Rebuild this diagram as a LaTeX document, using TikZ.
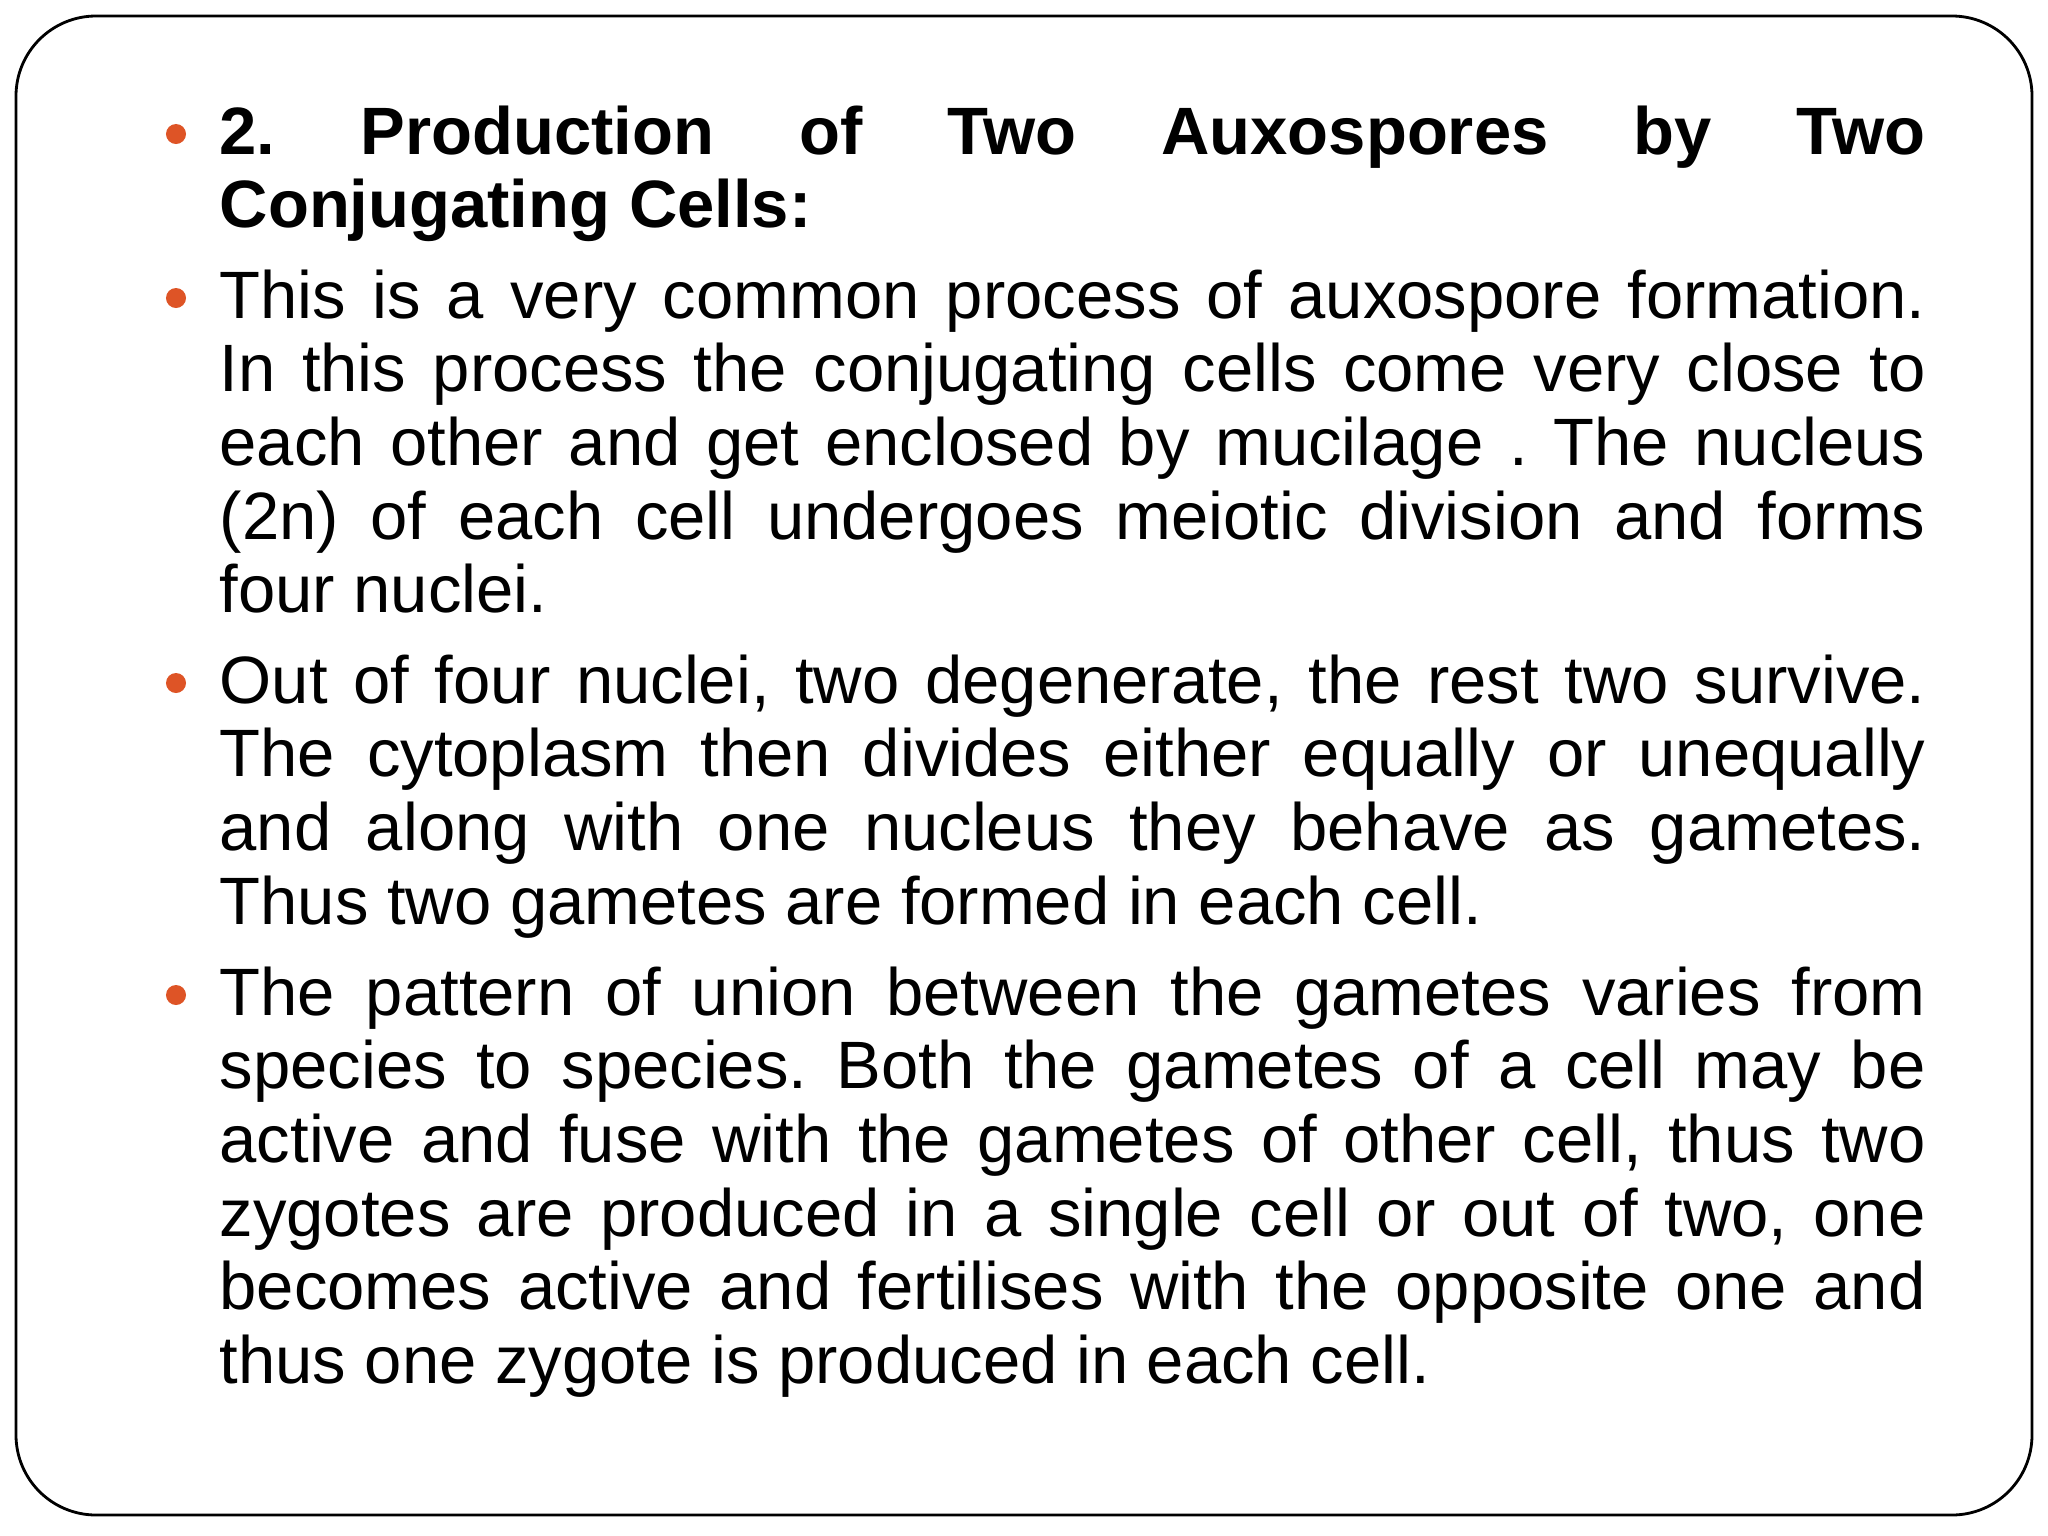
\documentclass[tikz,border=0pt]{standalone}
\usepackage{fontspec}
\setmainfont{Liberation Sans}
\definecolor{bul}{RGB}{222,84,38}
\newcommand\myparsetup{\fontsize{19.05}{20.97}\selectfont\frenchspacing\hyphenpenalty=10000\relax\exhyphenpenalty=10000\relax}
\begin{document}
\begin{tikzpicture}[x=0.01cm,y=-0.01cm,
  para/.style={anchor=base west,inner sep=0pt,text width=17.05cm,align=justify,font=\myparsetup},
  dot/.style={circle,fill=bul,inner sep=0pt,minimum size=0.2cm}]
\useasboundingbox (0,0) rectangle (2048,1536);
\draw[line width=0.8pt,rounded corners=0.8cm] (16,16) rectangle (2032,1515);
\node[dot] (b1) at (176,134) {};
\node[para] (p1) at (219,154) {\textbf{2. Production of Two Auxospores by Two\linebreak Conjugating Cells:}};
\node[dot] (b2) at (176,298) {};
\node[para] (p2) at (219,318) {This is a very common process of auxospore formation.\linebreak In this process the conjugating cells come very close to\linebreak each other and get enclosed by mucilage . The nucleus\linebreak (2n) of each cell undergoes meiotic division and forms\linebreak four nuclei.};
\node[dot] (b3) at (176,683) {};
\node[para] (p3) at (219,703) {Out of four nuclei, two degenerate, the rest two survive.\linebreak The cytoplasm then divides either equally or unequally\linebreak and along with one nucleus they behave as gametes.\linebreak Thus two gametes are formed in each cell.};
\node[dot] (b4) at (176,995) {};
\node[para] (p4) at (219,1015) {The pattern of union between the gametes varies from\linebreak species to species. Both the gametes of a cell may be\linebreak active and fuse with the gametes of other cell, thus two\linebreak zygotes are produced in a single cell or out of two, one\linebreak becomes active and fertilises with the opposite one and\linebreak thus one zygote is produced in each cell.};
\end{tikzpicture}
\end{document}
